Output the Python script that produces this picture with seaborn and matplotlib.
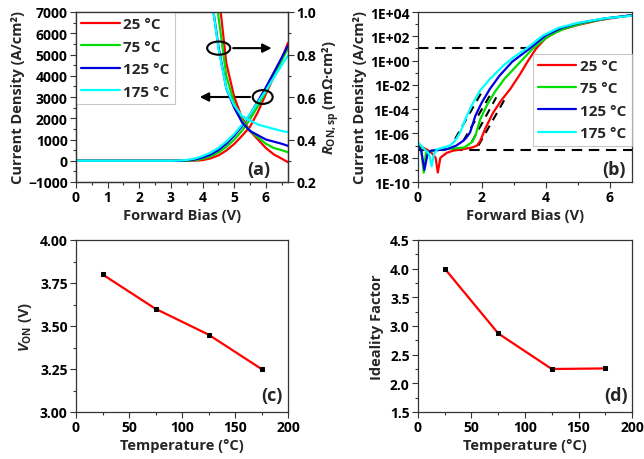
import numpy as np
import pandas as pd
import matplotlib
matplotlib.use('Agg')
import matplotlib.pyplot as plt
import seaborn as sns
from matplotlib.patches import Ellipse
from matplotlib.ticker import MultipleLocator, FixedLocator, NullFormatter

# ---------------- data ----------------
temps = ['25 °C', '75 °C', '125 °C', '175 °C']
colors = ['#ff0000', '#00dd00', '#0000dd', '#00ffff']

# panel (a): linear J-V
V_a = [0, 0.5, 1.0, 1.5, 2.0, 2.5, 3.0, 3.25, 3.5, 3.75, 4.0, 4.25, 4.5, 4.75,
       5.0, 5.25, 5.5, 5.75, 6.0, 6.25, 6.5, 6.7]
J_a_25 = [0, 0, 0, 0, 0, 0, 0, 0, 0, 5, 30, 110, 250, 480, 790, 1180, 1600, 2300, 3140, 3950, 4800, 5550]
J_a_75 = [0, 0, 0, 0, 0, 0, 0, 0, 5, 30, 90, 200, 390, 650, 1000, 1420, 1950, 2580, 3250, 3980, 4720, 5300]
J_a_125 = [0, 0, 0, 0, 0, 0, 0, 5, 20, 60, 150, 290, 500, 800, 1180, 1630, 2180, 2800, 3450, 4150, 4850, 5420]
J_a_175 = [0, 0, 0, 0, 0, 0, 0, 10, 40, 100, 220, 380, 600, 900, 1260, 1700, 2200, 2750, 3300, 3900, 4500, 4950]

# panel (a): specific on-resistance (right axis)
V_r = [4.25, 4.5, 4.75, 5.0, 5.25, 5.5, 5.75, 6.0, 6.25, 6.5, 6.7]
R_25 = [1.8, 1.1, 0.76, 0.60, 0.50, 0.44, 0.40, 0.36, 0.33, 0.31, 0.293]
R_75 = [1.5, 0.98, 0.70, 0.57, 0.49, 0.44, 0.41, 0.38, 0.36, 0.35, 0.34]
R_125 = [1.1, 0.84, 0.64, 0.55, 0.48, 0.44, 0.42, 0.40, 0.39, 0.38, 0.37]
R_175 = [1.1, 0.83, 0.64, 0.56, 0.51, 0.49, 0.47, 0.46, 0.45, 0.44, 0.435]

# panel (b): log J-V
V_b_25 = [0, 0.2, 0.4, 0.55, 0.62, 0.7, 0.9, 1.1, 1.4, 1.7, 1.85, 1.95, 2.1, 2.35, 2.6, 2.9,
          3.2, 3.45, 3.7, 4.0, 4.4, 5.0, 5.7, 6.7]
J_b_25 = [1.2e-7, 6e-8, 3e-8, 1e-8, 6e-10, 1e-8, 2.5e-8, 3.8e-8, 5e-8, 7e-8, 1e-7, 2.5e-7,
          2.3e-6, 5e-5, 5e-4, 5e-3, 8e-2, 1, 10, 70, 300, 850, 2200, 5550]
V_b_75 = [0, 0.1, 0.18, 0.25, 0.4, 0.8, 1.2, 1.45, 1.6, 1.7, 1.8, 1.95, 2.15, 2.4, 2.7, 3.1,
          3.6, 4.1, 4.6, 5.2, 6.0, 6.7]
J_b_75 = [1.3e-7, 5e-8, 6e-10, 2.8e-8, 3.5e-8, 5e-8, 6e-8, 7e-8, 1.3e-7, 2e-7, 7e-7, 1.5e-5,
          1.9e-4, 2.5e-3, 3e-2, 0.4, 10, 110, 450, 1250, 3250, 5300]
V_b_125 = [0, 0.1, 0.2, 0.3, 0.4, 0.9, 1.2, 1.42, 1.5, 1.63, 1.8, 2.0, 2.25, 2.55, 2.95, 3.5,
           4.0, 4.5, 5.0, 5.8, 6.7]
J_b_125 = [1e-7, 4e-8, 1e-9, 2e-8, 3.8e-8, 5e-8, 1e-7, 2.5e-7, 4e-7, 1.2e-6, 3e-5, 3.6e-4,
           4.6e-3, 5.6e-2, 0.8, 10, 120, 500, 1180, 2800, 5420]
V_b_175 = [0, 0.2, 0.35, 0.43, 0.5, 0.6, 1.0, 1.16, 1.32, 1.53, 1.73, 1.94, 2.25, 2.67, 3.0,
           3.4, 3.9, 4.4, 5.0, 5.8, 6.7]
J_b_175 = [1.9e-7, 5e-8, 2e-8, 2e-9, 2e-8, 5e-8, 1e-7, 2.5e-7, 1.2e-6, 2.9e-5, 3.6e-4, 3.3e-3,
           3e-2, 0.38, 1.9, 10, 110, 500, 1260, 2900, 4950]

# fitted slopes (dashed)
fit_V = [[1.16, 1.99], [1.42, 2.25], [1.68, 2.45], [1.89, 2.72]]
fit_J = [[3.5e-7, 2.4e-3], [2.5e-7, 1.3e-3], [1.9e-7, 9.3e-4], [1e-7, 6.8e-4]]
J_on_level = 10
J_leak_level = 4.3e-8
V_on_line_end = 3.76

# panel (c), (d)
T = [25, 75, 125, 175]
V_on = [3.80, 3.60, 3.45, 3.25]
ideality = [4.00, 2.87, 2.25, 2.26]

yticks_b = [1e-10, 1e-8, 1e-6, 1e-4, 1e-2, 1e0, 1e2, 1e4]
yticklabels_b = ['1E-10', '1E-08', '1E-06', '1E-04', '1E-02', '1E+00', '1E+02', '1E+04']

# ---------------- style ----------------
sns.set_theme(style='ticks')
plt.rcParams['font.family'] = ['Open Sans', 'DejaVu Sans']
plt.rcParams.update({
    'font.weight': 'bold',
    'axes.labelweight': 'bold',
    'font.size': 10,
    'axes.labelsize': 10.5,
    'xtick.labelsize': 10,
    'ytick.labelsize': 10,
    'xtick.direction': 'out',
    'ytick.direction': 'out',
    'xtick.major.size': 4, 'ytick.major.size': 4,
    'xtick.minor.size': 2, 'ytick.minor.size': 2,
    'xtick.major.width': 0.8, 'ytick.major.width': 0.8,
    'xtick.minor.width': 0.8, 'ytick.minor.width': 0.8,
    'xtick.major.pad': 2, 'ytick.major.pad': 2,
    'axes.linewidth': 0.9,
    'axes.edgecolor': '#333333',
    'xtick.color': '#333333', 'ytick.color': '#333333',
    'xtick.labelcolor': 'black', 'ytick.labelcolor': 'black',
    'mathtext.fontset': 'custom',
    'mathtext.rm': 'Open Sans:bold',
    'mathtext.it': 'Open Sans:italic:bold',
    'mathtext.bf': 'Open Sans:bold',
})

fig = plt.figure(figsize=(6.44, 4.60), dpi=100)
W, H = 644, 460
def axes_px(l, t, r, b):
    return fig.add_axes([l / W, 1 - b / H, (r - l) / W, (b - t) / H])

axA = axes_px(76, 13, 288, 183)
axB = axes_px(418, 13, 632, 183)
axC = axes_px(76, 241, 288, 413)
axD = axes_px(418, 241, 632, 413)
lw = 1.6
leg_kw = dict(frameon=True, fancybox=False, edgecolor='#bbbbbb', handlelength=2.5,
              handletextpad=0.25, borderpad=0.35, labelspacing=0.55, fontsize=11,
              borderaxespad=0)

# ---------------- panel (a) ----------------
J_a = [J_a_25, J_a_75, J_a_125, J_a_175]
R_a = [R_25, R_75, R_125, R_175]
for lab, col, J in zip(temps, colors, J_a):
    sns.lineplot(x=V_a, y=J, color=col, lw=lw, label=lab, ax=axA)
axA.set_xlim(0, 6.7)
axA.set_ylim(-1000, 7000)
axA.xaxis.set_major_locator(MultipleLocator(1))
axA.xaxis.set_minor_locator(MultipleLocator(0.5))
axA.yaxis.set_major_locator(MultipleLocator(1000))
axA.yaxis.set_minor_locator(MultipleLocator(500))
axA.set_xlabel('Forward Bias (V)', labelpad=3)
axA.set_ylabel('Current Density (A/cm²)', labelpad=2)
axA.yaxis.set_major_formatter(matplotlib.ticker.FuncFormatter(lambda v, p: f'{int(v)}'.replace('-', '−')))
leg = axA.legend(loc='upper left', bbox_to_anchor=(0, 1), **leg_kw)
leg.get_frame().set_linewidth(0.8)

axA2 = axA.twinx()
for col, R in zip(colors, R_a):
    sns.lineplot(x=V_r, y=R, color=col, lw=lw, ax=axA2, legend=False)
axA2.set_ylim(0.2, 1.0)
axA2.yaxis.set_major_locator(MultipleLocator(0.2))
axA2.yaxis.set_minor_locator(MultipleLocator(0.1))
axA2.yaxis.set_major_formatter(matplotlib.ticker.FormatStrFormatter('%.1f'))
axA2.set_ylabel(r'$R_{\rm ON,sp}$ (mΩ·cm²)', labelpad=3)
axA2.set_xlim(0, 6.7)

# annotations
axA2.add_patch(Ellipse((4.51, 0.83), 0.73, 0.062, fill=False, ec='black', lw=1.5, zorder=5))
axA2.annotate('', xy=(6.27, 0.83), xytext=(4.88, 0.83),
              arrowprops=dict(arrowstyle='-|>', color='black', lw=1.5, mutation_scale=13))
axA.add_patch(Ellipse((5.9, 3000), 0.63, 650, fill=False, ec='black', lw=1.5, zorder=5))
axA.annotate('', xy=(3.82, 3000), xytext=(5.59, 3000),
             arrowprops=dict(arrowstyle='-|>', color='black', lw=1.5, mutation_scale=13))
axA.text(0.86, 0.025, '(a)', transform=axA.transAxes, fontsize=13, fontweight='bold',
         ha='center', va='bottom')

# ---------------- panel (b) ----------------
V_b = [V_b_25, V_b_75, V_b_125, V_b_175]
J_b = [J_b_25, J_b_75, J_b_125, J_b_175]
for lab, col, V, J in zip(temps, colors, V_b, J_b):
    sns.lineplot(x=V, y=J, color=col, lw=lw, label=lab, ax=axB, sort=False)
axB.set_yscale('log')
axB.set_xlim(0, 6.7)
axB.set_ylim(1e-10, 1e4)
dash = (0, (5, 3.2))
axB.plot([0, V_on_line_end], [J_on_level, J_on_level], color='black', lw=1.5, ls=dash, zorder=1)
axB.axhline(J_leak_level, color='black', lw=1.5, ls=dash, zorder=1)
for fv, fj in zip(fit_V, fit_J):
    axB.plot(fv, fj, color='black', lw=1.5, ls=(0, (4, 3)), zorder=1)
axB.yaxis.set_major_locator(FixedLocator(yticks_b))
axB.set_yticklabels(yticklabels_b)
axB.yaxis.set_minor_locator(FixedLocator([1e-9, 1e-7, 1e-5, 1e-3, 1e-1, 1e1, 1e3]))
axB.yaxis.set_minor_formatter(NullFormatter())
axB.xaxis.set_major_locator(MultipleLocator(2))
axB.xaxis.set_minor_locator(MultipleLocator(1))
axB.set_xlabel('Forward Bias (V)', labelpad=3)
axB.set_ylabel('Current Density (A/cm²)', labelpad=2)
legB = axB.legend(loc='upper right', bbox_to_anchor=(1.0, 0.755), **leg_kw)
legB.get_frame().set_linewidth(0.8)
axB.text(0.915, 0.025, '(b)', transform=axB.transAxes, fontsize=13, fontweight='bold',
         ha='center', va='bottom')

# ---------------- panel (c) ----------------
sns.lineplot(x=T, y=V_on, color='#ff0000', lw=1.6, marker='s', markersize=3,
             markerfacecolor='black', markeredgecolor='black', ax=axC)
axC.set_xlim(0, 200)
axC.set_ylim(3.0, 4.0)
axC.xaxis.set_major_locator(MultipleLocator(50))
axC.xaxis.set_minor_locator(MultipleLocator(25))
axC.yaxis.set_major_locator(MultipleLocator(0.25))
axC.yaxis.set_minor_locator(MultipleLocator(0.125))
axC.yaxis.set_major_formatter(matplotlib.ticker.FormatStrFormatter('%.2f'))
axC.set_xlabel('Temperature (°C)', labelpad=3)
axC.set_ylabel(r'$V_{\rm ON}$ (V)', labelpad=4)
axC.text(0.925, 0.045, '(c)', transform=axC.transAxes, fontsize=13, fontweight='bold',
         ha='center', va='bottom')

# ---------------- panel (d) ----------------
sns.lineplot(x=T, y=ideality, color='#ff0000', lw=1.6, marker='s', markersize=3,
             markerfacecolor='black', markeredgecolor='black', ax=axD)
axD.set_xlim(0, 200)
axD.set_ylim(1.5, 4.5)
axD.xaxis.set_major_locator(MultipleLocator(50))
axD.xaxis.set_minor_locator(MultipleLocator(25))
axD.yaxis.set_major_locator(MultipleLocator(0.5))
axD.yaxis.set_minor_locator(MultipleLocator(0.25))
axD.yaxis.set_major_formatter(matplotlib.ticker.FormatStrFormatter('%.1f'))
axD.set_xlabel('Temperature (°C)', labelpad=3)
axD.set_ylabel('Ideality Factor', labelpad=4)
axD.text(0.925, 0.045, '(d)', transform=axD.transAxes, fontsize=13, fontweight='bold',
         ha='center', va='bottom')

for ax in [axA, axB, axC, axD, axA2]:
    for lbl in ax.get_xticklabels() + ax.get_yticklabels():
        lbl.set_fontweight('bold')

fig.savefig('out.png', dpi=100)
